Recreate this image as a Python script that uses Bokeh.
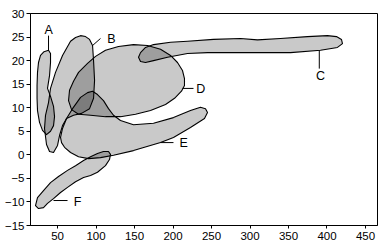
from bokeh.plotting import figure
from bokeh.models import FixedTicker, Range1d
from bokeh.embed import file_html
from bokeh.resources import INLINE
from bokeh.core.properties import value

# ---- axis ticks ----
x_ticks = [50, 100, 150, 200, 250, 300, 350, 400, 450]
y_ticks = [-15, -10, -5, 0, 5, 10, 15, 20, 25, 30]

# ---- region outlines (data units) ----
a_x = [38.3, 40.9, 40.9, 39.6, 37.0, 40.9, 44.8, 46.1, 44.8, 40.9, 35.7, 30.5, 26.6, 24.0, 23.4, 23.4, 24.0, 25.3, 27.9, 32.5]
a_y = [22.2, 21.5, 19.6, 16.8, 14.1, 12.4, 10.3, 8.1, 6.2, 5.0, 4.3, 5.2, 6.9, 9.4, 12.0, 14.7, 17.5, 19.6, 21.1, 21.9]

b_x = [79.9, 86.4, 91.6, 95.5, 96.8, 98.1, 96.8, 91.6, 81.2, 70.8, 61.7, 56.5, 52.6, 50.0, 44.8, 39.6, 35.7, 33.1, 34.4, 38.3, 40.9, 47.4, 56.5, 66.9, 73.4]
b_y = [25.3, 25.1, 24.5, 23.2, 20.0, 15.8, 12.0, 9.8, 8.8, 8.4, 7.7, 6.2, 4.1, 2.0, 0.5, 0.7, 2.2, 5.6, 8.4, 11.1, 14.1, 17.5, 21.1, 24.1, 24.9]

c_x = [157.8, 164.3, 174.7, 196.8, 218.8, 252.6, 287.7, 309.7, 339.6, 374.7, 400.6, 412.3, 418.8, 420.1, 413.6, 391.6, 352.6, 309.7, 244.8, 218.8, 192.9, 174.7, 164.3, 157.8, 155.2]
c_y = [21.7, 22.8, 23.4, 23.9, 24.1, 24.5, 24.7, 24.4, 24.7, 25.1, 25.3, 25.1, 24.5, 23.6, 22.8, 22.2, 21.7, 21.7, 21.7, 21.5, 20.7, 20.0, 19.6, 19.8, 20.7]

d_x = [64.3, 65.6, 70.8, 77.3, 89.0, 99.4, 112.3, 129.2, 148.7, 166.9, 183.8, 196.8, 205.8, 212.3, 214.9, 214.9, 211.0, 202.0, 190.3, 170.8, 151.3, 131.8, 112.3, 92.9, 77.3, 68.2]
d_y = [11.5, 13.7, 15.6, 17.5, 19.4, 20.9, 22.2, 23.0, 23.4, 23.2, 22.4, 21.1, 19.6, 17.9, 16.2, 14.7, 13.5, 12.0, 10.7, 9.4, 8.6, 8.1, 8.1, 8.4, 8.6, 9.6]

e_x = [53.9, 56.5, 61.7, 69.5, 79.9, 89.0, 95.5, 101.9, 109.7, 116.2, 122.7, 131.8, 148.7, 174.7, 200.6, 222.7, 235.7, 242.2, 244.8, 240.9, 222.7, 200.6, 183.8, 148.7, 122.7, 105.8, 90.3, 77.3, 66.9, 59.1, 55.2]
e_y = [3.7, 5.6, 7.7, 9.8, 12.2, 13.2, 13.5, 12.8, 11.5, 9.8, 8.4, 7.3, 6.4, 6.7, 7.9, 9.4, 10.1, 9.8, 9.0, 7.7, 5.8, 3.7, 2.6, 0.9, -0.1, -0.6, -0.8, -0.4, 0.5, 1.6, 2.6]

f_x = [21.4, 24.0, 31.8, 40.9, 51.3, 63.0, 73.4, 83.8, 92.9, 101.9, 109.7, 116.2, 118.8, 117.5, 112.3, 101.9, 92.9, 83.8, 73.4, 63.0, 53.9, 44.8, 37.0, 31.8, 25.3]
f_y = [-10.8, -9.1, -7.6, -5.9, -4.6, -3.3, -2.3, -1.2, -0.4, 0.3, 0.7, 0.7, 0.1, -1.0, -2.3, -3.7, -4.4, -4.8, -5.7, -6.9, -8.0, -9.3, -10.3, -11.2, -11.4]

# ---- labels and leader lines ----
label_text = ["A", "B", "C", "D", "E", "F"]
label_x = [38.5, 120.0, 391.6, 236.0, 214.0, 76.0]
label_y = [26.4, 24.6, 16.8, 14.0, 2.5, -10.0]
lead_x0 = [38.3, 95.5, 390.0, 212.3, 183.8, 44.8]
lead_y0 = [25.3, 23.2, 22.2, 14.1, 2.6, -9.7]
lead_x1 = [38.3, 105.8, 390.0, 226.6, 200.6, 63.0]
lead_y1 = [22.2, 24.7, 18.3, 14.1, 2.6, -9.7]

p = figure(width=392, height=248, output_backend="svg", toolbar_location=None,
           x_range=Range1d(14.9, 465.6), y_range=Range1d(-15, 30),
           min_border_left=30, min_border_right=15, min_border_top=13, min_border_bottom=23)

p.xgrid.visible = False
p.ygrid.visible = False
p.outline_line_color = "black"
p.outline_line_width = 1
p.outline_line_alpha = 1
p.background_fill_color = "white"
p.border_fill_color = "white"

for ax in (p.xaxis[0], p.yaxis[0]):
    ax.axis_line_color = "black"
    ax.axis_line_width = 1
    ax.major_tick_line_color = "black"
    ax.minor_tick_line_color = None
    ax.major_tick_in = 0
    ax.major_label_text_font = "Liberation Sans"
    ax.major_label_text_font_size = "11.5px"
    ax.major_label_text_color = "black"

p.xaxis.ticker = FixedTicker(ticks=x_ticks)
p.yaxis.ticker = FixedTicker(ticks=y_ticks)
p.xaxis.major_tick_out = 3
p.yaxis.major_tick_out = 4
p.xaxis.major_label_standoff = 3
p.yaxis.major_label_standoff = 2
p.yaxis.major_label_overrides = {t: str(t).replace("-", "\u2212") for t in y_ticks}

p.patches(xs=[a_x, b_x, c_x, d_x, e_x, f_x], ys=[a_y, b_y, c_y, d_y, e_y, f_y],
          fill_color="black", fill_alpha=0.21, line_color="black", line_width=1.1,
          line_join="round")

p.segment(x0=lead_x0, y0=lead_y0, x1=lead_x1, y1=lead_y1, line_color="black", line_width=1)
p.text(x=label_x, y=label_y, text=label_text, text_align="center", text_baseline="middle",
       text_font=value("Liberation Sans"), text_font_size="12.5px", text_color="black")

open("out.html", "w").write(file_html(p, INLINE))
